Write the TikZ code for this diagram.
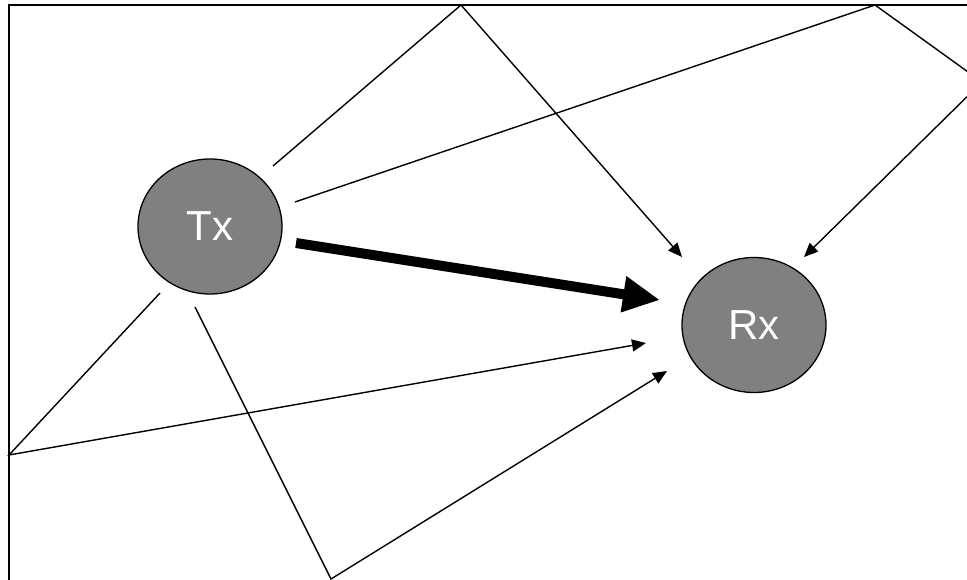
\documentclass[tikz,border=0pt]{standalone}
\usepackage{fontspec}
\setmainfont{Liberation Sans}
\usetikzlibrary{arrows.meta,shapes.geometric,calc}
\definecolor{stationgray}{RGB}{128,128,128}
\begin{document}
\begin{tikzpicture}[x=1pt,y=-1pt,
  station/.style={ellipse, draw=black, line width=1.3pt, fill=stationgray,
    minimum width=144pt, minimum height=135pt, inner sep=0pt,
    text=white, font=\fontsize{42}{42}\selectfont},
  ray/.style={line width=1.4pt},
  rayhead/.style={ray, -{Triangle[length=14pt,width=12pt]}},
  direct/.style={line width=10pt, -{Triangle[length=37pt,width=34pt]}},
  wall/.style={line width=2pt}]
\useasboundingbox (0,0) rectangle (967,580);
\clip (0,0) rectangle (967,580);

% room walls
\draw[wall] (9,5) rectangle (982,583);

% transmitter and receiver
\node[station] (Tx) at (210,226.5) {Tx};
\node[station] (Rx) at (754,325) {Rx};

% reflection points on the walls
\coordinate (top1)   at (461,5);
\coordinate (top2)   at (875,5);
\coordinate (right)  at (982,82);
\coordinate (left)   at (9,455);
\coordinate (bottom) at (331,579);

% ray starts next to Tx
\coordinate (s0) at ($(Tx)+(86,16.5)$);
\coordinate (s1) at ($(Tx)+(63,-60.5)$);
\coordinate (s2) at ($(Tx)+(85,-24.5)$);
\coordinate (s4) at ($(Tx)+(-50,66.5)$);
\coordinate (s5) at ($(Tx)+(-15,80.5)$);

% ray ends next to Rx
\coordinate (e0) at ($(Rx)+(-94,-25)$);
\coordinate (e1) at ($(Rx)+(-72,-68)$);
\coordinate (e2) at ($(Rx)+(50,-68)$);
\coordinate (e4) at ($(Rx)+(-108,18)$);
\coordinate (e5) at ($(Rx)+(-87,46)$);

% direct path
\draw[direct] (s0) -- (e0);

% reflected paths
\draw[rayhead] (s1) -- (top1) -- (e1);
\draw[rayhead] (s2) -- (top2) -- (right) -- (e2);
\draw[rayhead] (s4) -- (left) -- (e4);
\draw[rayhead] (s5) -- (bottom) -- (e5);
\end{tikzpicture}
\end{document}
